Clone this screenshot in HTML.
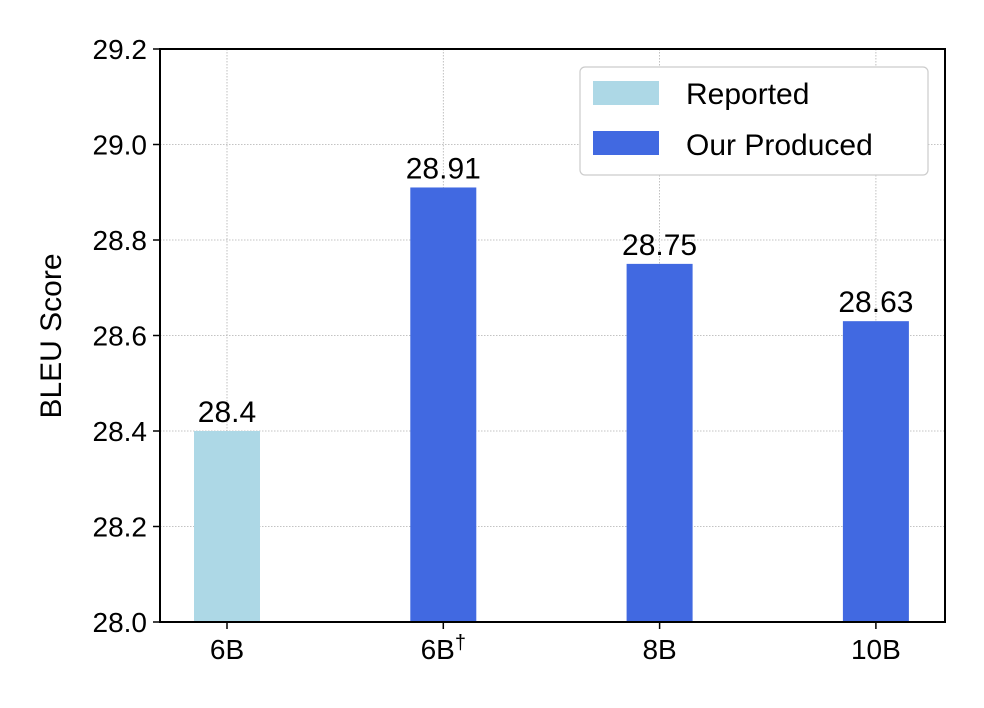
<!DOCTYPE html>
<html><head><meta charset="utf-8"><style>
body{margin:0;background:#fff;}
svg text{font-family:"Liberation Sans","DejaVu Sans",sans-serif;fill:#000;}
</style></head><body>
<svg id="chart" width="984" height="703" xmlns="http://www.w3.org/2000/svg">
<rect width="984" height="703" fill="#fff"/>
<g id="grid"></g>
<g id="bars"></g>
<g id="axes"></g>
<g id="legend">
  <rect x="580" y="67" width="348" height="108" rx="5" fill="#fff" stroke="#ccc" stroke-width="1.2"/>
  <rect x="593" y="81" width="66" height="24" fill="#add8e6"/>
  <text x="686" y="104" font-size="30">Reported</text>
  <rect x="593" y="131" width="66" height="24" fill="#4169e1"/>
  <text x="686" y="155" font-size="30">Our Produced</text>
</g>
<text transform="translate(61,336) rotate(-90)" text-anchor="middle" font-size="30">BLEU Score</text>
</svg>
<script>
const categories = ["6B", "6B\u2020", "8B", "10B"];
const values = [28.4, 28.91, 28.75, 28.63];
const labels = ["28.4", "28.91", "28.75", "28.63"];
const series = ["reported", "produced", "produced", "produced"];
const yTicks = [28.0, 28.2, 28.4, 28.6, 28.8, 29.0, 29.2];
const tickLabels = ["28.0", "28.2", "28.4", "28.6", "28.8", "29.0", "29.2"];

const L = 160, R = 945, T = 49, B = 622, yMin = 28.0, yMax = 29.2;
const NS = "http://www.w3.org/2000/svg";
function y(v){ return B - (v - yMin) / (yMax - yMin) * (B - T); }
function x(i){ return 227 + i * 216.3; }
const bw = 66;
function mk(tag, attrs, parent){
  const e = document.createElementNS(NS, tag);
  for (const k in attrs) e.setAttribute(k, attrs[k]);
  parent.appendChild(e); return e;
}
const grid = document.getElementById('grid'), bars = document.getElementById('bars'), axes = document.getElementById('axes');

yTicks.forEach((t, i) => {
  const gl = mk('line', {x1: L, x2: R, y1: y(t), y2: y(t), stroke: '#b0b0b0', 'stroke-width': 0.8, 'stroke-dasharray': '1.5,1.5'}, grid);
  
  
  const tk = mk('line', {x1: L - 7, x2: L, y1: y(t), y2: y(t), stroke: '#000', 'stroke-width': 1.5}, axes);
  
  
  const tl = mk('text', {x: L - 13, y: y(t) + 10, 'text-anchor': 'end', 'font-size': 28}, axes);
  tl.textContent = tickLabels[i];
  
  
});

categories.forEach((c, i) => {
  const gl = mk('line', {x1: x(i), x2: x(i), y1: T, y2: B, stroke: '#b0b0b0', 'stroke-width': 0.8, 'stroke-dasharray': '1.5,1.5'}, grid);
  
  
  const top = y(values[i]);
  const b = mk('rect', {x: x(i) - bw / 2, y: top, width: bw, height: B - top, fill: series[i] === 'reported' ? '#add8e6' : '#4169e1'}, bars);
  
  
  const vl = mk('text', {x: x(i), y: top - 9, 'text-anchor': 'middle', 'font-size': 30}, bars);
  vl.textContent = labels[i];
  
  
  const tk = mk('line', {x1: x(i), x2: x(i), y1: B, y2: B + 7, stroke: '#000', 'stroke-width': 1.5}, axes);
  
  
  const xl = mk('text', {x: x(i), y: B + 37, 'text-anchor': 'middle', 'font-size': 28}, axes);
  
  
  if (c.indexOf('\u2020') >= 0) {
    xl.textContent = c.replace('\u2020', '');
    const s = mk('tspan', {dy: -10, 'font-size': 20}, xl);
    s.textContent = '\u2020';
  } else xl.textContent = c;
});

const frame = mk('rect', {x: L, y: T, width: R - L, height: B - T, fill: 'none', stroke: '#000', 'stroke-width': 2}, axes);


</script>
</body></html>
